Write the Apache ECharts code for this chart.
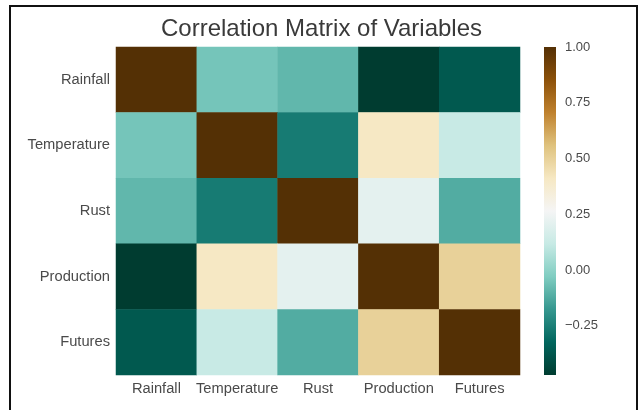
<!DOCTYPE html>
<html>
<head>
<meta charset="utf-8">
<title>Correlation Matrix of Variables</title>
<script src="https://cdn.jsdelivr.net/npm/echarts@6/dist/echarts.min.js"></script>
<style>
  html, body { margin: 0; padding: 0; background: #ffffff; }
  #chart { width: 643px; height: 410px; }
</style>
</head>
<body>
<div id="chart"></div>
<script>
// Variables shown on both axes of the matrix
const variables = ['Rainfall', 'Temperature', 'Rust', 'Production', 'Futures'];

// Pairwise correlation coefficients, one row per variable (symmetric)
const rainfallRow    = [1.00, -0.05, -0.09, -0.47, -0.37];
const temperatureRow = [-0.05, 1.00, -0.26, 0.41, 0.12];
const rustRow        = [-0.09, -0.26, 1.00, 0.21, -0.12];
const productionRow  = [-0.47, 0.41, 0.21, 1.00, 0.50];
const futuresRow     = [-0.37, 0.12, -0.12, 0.50, 1.00];

// Colour bar tick labels
const colorbarTicks = [-0.25, 0.00, 0.25, 0.50, 0.75, 1.00];

// Brown–blue-green diverging palette (low → high)
const brbg = ['#003c30', '#01665e', '#35978f', '#80cdc1', '#c7eae5', '#f5f5f5',
              '#f6e8c3', '#dfc27d', '#bf812d', '#8c510a', '#543005'];

const rows = [rainfallRow, temperatureRow, rustRow, productionRow, futuresRow];
const cells = [];
rows.forEach((row, r) => row.forEach((v, c) => cells.push([c, r, v])));

const allValues = rows.flat();
const vMin = Math.min(...allValues);
const vMax = Math.max(...allValues);

const fontFamily = '"Liberation Sans", Arial, Helvetica, sans-serif';
const labelColor = '#4a4a4a';

// Vertical gradient for the colour bar: top = high end, bottom = low end
const barStops = brbg.map((color, i) => ({ offset: 1 - i / (brbg.length - 1), color }));

const chart = echarts.init(document.getElementById('chart'), null, { renderer: 'canvas' });

chart.setOption({
  backgroundColor: '#ffffff',
  animation: false,
  title: {
    text: 'Correlation Matrix of Variables',
    left: 'center',
    top: 17,
    padding: 0,
    textStyle: { fontFamily, fontSize: 24, fontWeight: 'normal', color: '#3a3a3a' }
  },
  graphic: [{
    type: 'rect',
    shape: { x: 10, y: 6, width: 627, height: 500 },
    style: { fill: 'none', stroke: '#111111', lineWidth: 2 },
    silent: true,
    z: 100
  }],
  grid: [
    { left: 116, top: 47, width: 404, height: 328 },
    { left: 544, top: 47, width: 12, height: 328 }
  ],
  xAxis: [
    {
      type: 'category',
      data: variables,
      gridIndex: 0,
      axisLine: { show: false },
      axisTick: { show: false },
      splitLine: { show: false },
      axisLabel: { fontFamily, fontSize: 14.7, color: labelColor, margin: 6, interval: 0 }
    },
    { type: 'value', gridIndex: 1, show: false, min: 0, max: 1 }
  ],
  yAxis: [
    {
      type: 'category',
      data: variables,
      inverse: true,
      gridIndex: 0,
      axisLine: { show: false },
      axisTick: { show: false },
      splitLine: { show: false },
      axisLabel: { fontFamily, fontSize: 14.7, color: labelColor, margin: 6, interval: 0 }
    },
    {
      type: 'value',
      gridIndex: 1,
      position: 'right',
      min: vMin,
      max: vMax,
      axisLine: { show: false },
      axisTick: { show: false },
      splitLine: { show: false },
      axisLabel: {
        customValues: colorbarTicks,
        fontFamily,
        fontSize: 13,
        color: labelColor,
        margin: 9,
        formatter: v => (v < 0 ? '\u2212' : '') + Math.abs(v).toFixed(2)
      }
    }
  ],
  visualMap: {
    type: 'continuous',
    show: false,
    seriesIndex: 0,
    min: vMin,
    max: vMax,
    inRange: { color: brbg }
  },
  series: [
    {
      type: 'heatmap',
      xAxisIndex: 0,
      yAxisIndex: 0,
      data: cells,
      itemStyle: { borderWidth: 0 },
      emphasis: { disabled: true }
    },
    {
      // Colour bar spanning the full value range on the right-hand axis
      type: 'custom',
      xAxisIndex: 1,
      yAxisIndex: 1,
      silent: true,
      data: [[0, vMin, 1, vMax]],
      encode: { x: [0, 2], y: [1, 3] },
      renderItem: (params, api) => {
        const p0 = api.coord([api.value(0), api.value(3)]);
        const p1 = api.coord([api.value(2), api.value(1)]);
        return {
          type: 'rect',
          shape: { x: p0[0], y: p0[1], width: p1[0] - p0[0], height: p1[1] - p0[1] },
          style: { fill: new echarts.graphic.LinearGradient(0, 0, 0, 1, barStops) }
        };
      }
    }
  ]
});
</script>
</body>
</html>
